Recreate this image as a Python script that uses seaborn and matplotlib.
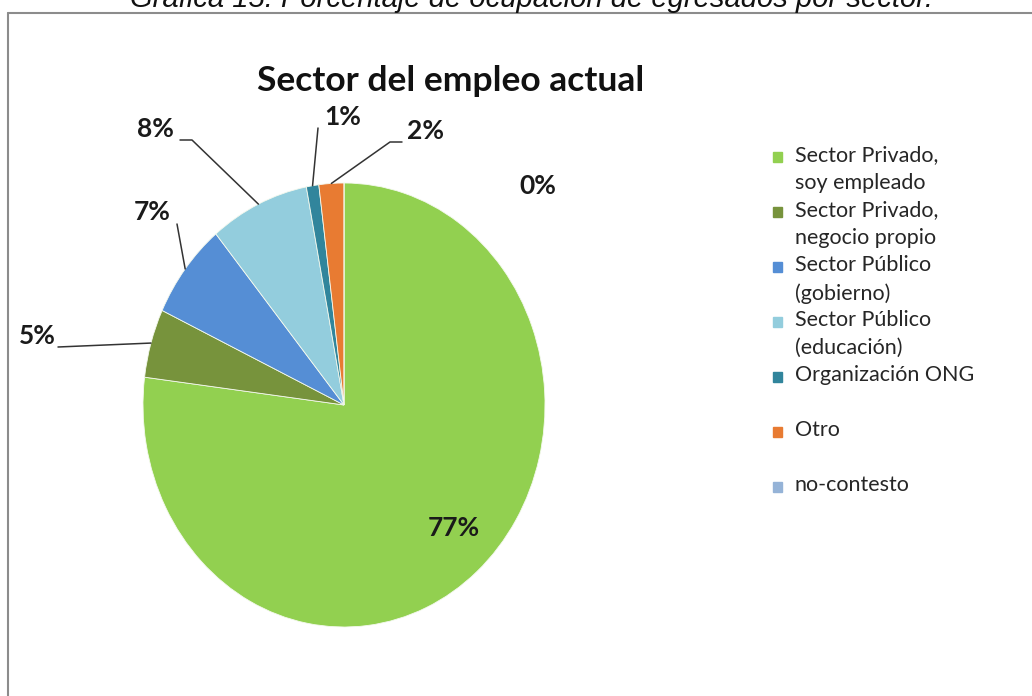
import numpy as np
import matplotlib
matplotlib.use("Agg")
import matplotlib.pyplot as plt
import seaborn as sns

# datos del grafico
categorias = ["Sector Privado,\nsoy empleado", "Sector Privado,\nnegocio propio",
              "Sector Público\n(gobierno)", "Sector Público\n(educación)",
              "Organización ONG", "Otro", "no-contesto"]
porcentajes = [77, 5, 7, 8, 1, 2, 0]
colores = ["#92D050", "#77933C", "#558ED5", "#93CDDD", "#31859C", "#E87B32", "#95B3D7"]

titulo = "Sector del empleo actual"
caption = "Gráfica 15: Porcentaje de ocupación de egresados por sector."

W, H = 1032, 696
CX, CY, RX, RY = 344, 405, 201, 222   # pie placement in pixels

sns.set_theme(style="white")
plt.rcParams["font.family"] = ["Lato", "DejaVu Sans"]

fig = plt.figure(figsize=(W / 100, H / 100), dpi=100)
fig.patch.set_facecolor("white")


def fx(x):
    return x / W


def fy(y):
    return 1 - y / H


def dx(x):
    return (x - CX) / RX


def dy(y):
    return (CY - y) / RY


ax = fig.add_axes([fx(CX - RX), fy(CY + RY), 2 * RX / W, 2 * RY / H])
wedges, _ = ax.pie(porcentajes, colors=colores, startangle=90, counterclock=False,
                   radius=1, wedgeprops=dict(edgecolor="#f4f9ee", linewidth=0.6))
ax.set_aspect("auto")
ax.set_xlim(-1, 1)
ax.set_ylim(-1, 1)
ax.axis("off")

# label layout (pixels): text centre, line start, optional elbow
layout = [
    ((454, 528), None, None),
    ((37, 336), (58, 347), None),
    ((152, 212), (177, 224), None),
    ((155, 129), (180, 140), (192, 140)),
    ((343, 117), (318, 128), None),
    ((426, 131), (402, 142), (390, 142)),
    ((538, 186), None, None),
]

for w, pct, (txt, start, elbow) in zip(wedges, porcentajes, layout):
    ax.text(dx(txt[0]), dy(txt[1]), f"{pct}%", ha="center", va="center",
            fontsize=19, fontweight="bold", color="#1a1a1a", clip_on=False)
    if start is None:
        continue
    ang = np.deg2rad((w.theta1 + w.theta2) / 2)
    px, py = [dx(start[0])], [dy(start[1])]
    if elbow is not None:
        px.append(dx(elbow[0]))
        py.append(dy(elbow[1]))
    px.append(np.cos(ang))
    py.append(np.sin(ang))
    ax.plot(px, py, color="#333333", lw=1.1, clip_on=False)

# legend drawn by hand so the square sits on the first line
for i, (cat, col) in enumerate(zip(categorias, colores)):
    y0 = 157 + 55 * i
    fig.patches.append(plt.Rectangle((fx(773), fy(y0 + 5)), 9 / W, 10 / H,
                                     transform=fig.transFigure, color=col))
    fig.text(fx(795), fy(y0 - 12), cat, ha="left", va="top", fontsize=15.5,
             color="#262626", linespacing=1.52)

fig.text(fx(451), fy(91), titulo, ha="center", va="baseline", fontsize=25.5,
         fontweight="bold", color="#111111")
fig.text(fx(532), fy(7), caption, ha="center", va="baseline", fontsize=21,
         style="italic", family="Liberation Sans", color="#111111")

# chart frame
fig.add_artist(plt.Line2D([fx(8), fx(8)], [fy(13), 0], color="#8c8c8c", lw=1.5))
fig.add_artist(plt.Line2D([fx(8), 1], [fy(13), fy(13)], color="#8c8c8c", lw=1.5))

fig.savefig("out.png", dpi=100, facecolor="white")
